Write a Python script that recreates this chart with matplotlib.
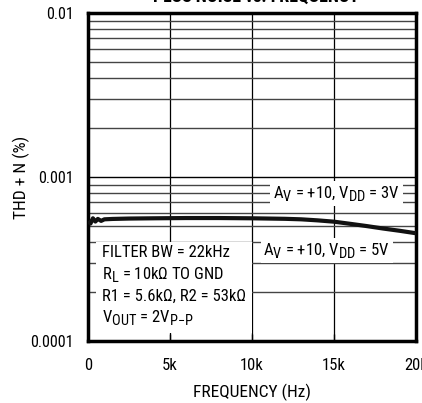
import matplotlib
matplotlib.use("Agg")
import matplotlib.pyplot as plt
from matplotlib import font_manager
from matplotlib.ticker import FixedLocator, NullLocator, NullFormatter
try:
    import matplotlib._mathtext as _mt
    _mt.SHRINK_FACTOR = 0.86
except Exception:
    pass

names = {f.name for f in font_manager.fontManager.ttflist}
FONT = "Roboto"
for cand in ["Liberation Sans Narrow", "Roboto Condensed", "Archivo Narrow",
             "PT Sans Narrow", "Barlow Semi Condensed"]:
    if cand in names:
        FONT = cand
        break
plt.rcParams["font.family"] = [FONT, "DejaVu Sans"]
plt.rcParams["mathtext.fontset"] = "custom"
plt.rcParams["mathtext.rm"] = FONT

freq_hz = [20, 150, 300, 450, 600, 800, 1000, 1500, 2500, 4000, 6000, 8000,
           10000, 12000, 13000, 14000, 15000, 16000, 17000, 18000, 19000, 20000]
thdn_pct = [0.00054, 0.00052, 0.00056, 0.000535, 0.000555, 0.00054, 0.000552,
            0.000555, 0.000558, 0.00056, 0.000562, 0.000562, 0.00056, 0.000556,
            0.000552, 0.000544, 0.000534, 0.000518, 0.000502, 0.000485,
            0.00047, 0.000454]
x_ticks = [0, 5000, 10000, 15000, 20000]
x_tick_labels = ["0", "5k", "10k", "15k", "20k"]
y_ticks = [0.0001, 0.001, 0.01]
y_tick_labels = ["0.0001", "0.001", "0.01"]

fig = plt.figure(figsize=(4.22, 4.03), dpi=100)
ax = fig.add_axes([88/422, 62/403, 328/422, 328/403])
ax.set_yscale("log")
ax.set_xlim(0, 20000)
ax.set_ylim(0.0001, 0.01)

# grid
for xv in x_ticks[1:-1]:
    ax.axvline(xv, color="black", lw=0.9, zorder=1)
for dec in [1e-4, 1e-3]:
    for m in range(2, 10):
        ax.axhline(dec*m, color="#444444", lw=1.0, zorder=1)
ax.axhline(1e-3, color="black", lw=1.0, zorder=1)

ax.plot(freq_hz, thdn_pct, color="#111111", lw=3.0, zorder=3, solid_capstyle="butt")

ax.xaxis.set_major_locator(FixedLocator(x_ticks))
ax.set_xticklabels(x_tick_labels)
ax.yaxis.set_major_locator(FixedLocator(y_ticks))
ax.set_yticklabels(y_tick_labels)
ax.yaxis.set_minor_locator(NullLocator())
ax.yaxis.set_minor_formatter(NullFormatter())
ax.tick_params(axis="both", direction="in", length=5, width=1, labelsize=12, pad=12)
ax.tick_params(axis="y", length=0, pad=10.5, labelsize=11.5)
for s in ax.spines.values():
    s.set_linewidth(2.5)

ax.set_xlabel("FREQUENCY (Hz)", fontsize=12.5, labelpad=8)
ax.set_ylabel("THD + N (%)", fontsize=12.5, labelpad=0)

box = dict(facecolor="white", edgecolor="none", pad=2)
ax.text(11300, 0.00079, r"A$_\mathregular{V}$ = +10, V$_\mathregular{DD}$ = 3V",
        fontsize=12, va="center", ha="left", bbox=box, zorder=4)
ax.text(10700, 0.000355, r"A$_\mathregular{V}$ = +10, V$_\mathregular{DD}$ = 5V",
        fontsize=12, va="center", ha="left", bbox=box, zorder=4)
ax.text(850, 0.000215,
        "FILTER BW = 22kHz\n"
        r"R$_\mathregular{L}$ = 10kΩ TO GND" "\n"
        "R1 = 5.6kΩ, R2 = 53kΩ\n"
        r"V$_\mathregular{OUT}$ = 2V$_\mathregular{P{-}P}$",
        fontsize=12, va="center", ha="left", linespacing=1.35,
        bbox=dict(facecolor="white", edgecolor="none", pad=4), zorder=4)

fig.text(0.606, 1 - 2/403, "PLUS NOISE vs. FREQUENCY", fontsize=13, fontweight="bold",
         ha="center", va="baseline")

fig.savefig("out.png", dpi=100)
